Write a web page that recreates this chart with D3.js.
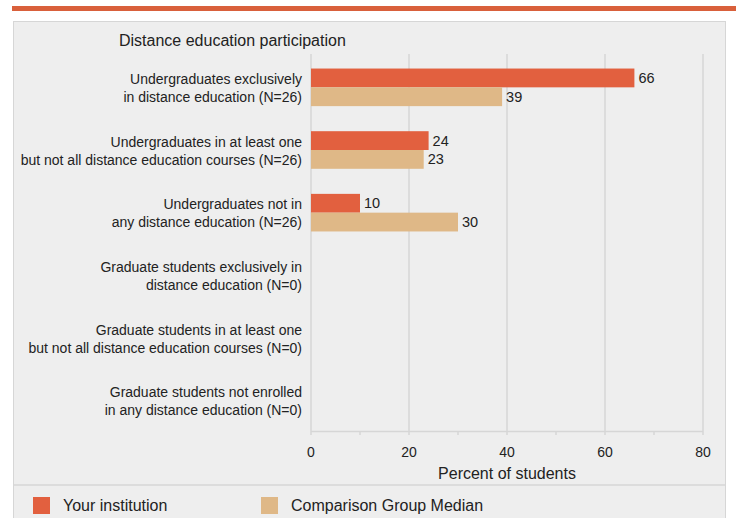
<!DOCTYPE html>
<html>
<head>
<meta charset="utf-8">
<script src="https://cdn.jsdelivr.net/npm/d3@7"></script>
<style>
  body { margin: 0; background: #fff; }
  svg { display: block; font-family: "Liberation Sans", Arial, sans-serif; }
</style>
</head>
<body>
<svg width="736" height="518"></svg>
<script>
// Data
const categories = [
  ["Undergraduates exclusively", "in distance education (N=26)"],
  ["Undergraduates in at least one", "but not all distance education courses (N=26)"],
  ["Undergraduates not in", "any distance education (N=26)"],
  ["Graduate students exclusively in", "distance education (N=0)"],
  ["Graduate students in at least one", "but not all distance education courses (N=0)"],
  ["Graduate students not enrolled", "in any distance education (N=0)"]
];
const institution = [66, 24, 10, null, null, null];
const comparison = [39, 23, 30, null, null, null];
const seriesNames = ["Your institution", "Comparison Group Median"];
const xTicks = [0, 20, 40, 60, 80];

const colors = ["#e2603f", "#dfb887"];

let svg = d3.select("svg");

// top rule + panel
svg.append("rect").attr("x", 12).attr("y", 6).attr("width", 724).attr("height", 5).attr("fill", "#d9603b");
svg.append("rect").attr("x", 13.5).attr("y", 21.5).attr("width", 712).attr("height", 510)
  .attr("fill", "#eeeeee").attr("stroke", "#d6d6d6");
svg.append("line").attr("x1", 14).attr("x2", 725).attr("y1", 485).attr("y2", 485)
  .attr("stroke", "#d6d6d6").attr("stroke-width", 1.5);

svg.append("text").attr("x", 119).attr("y", 46).attr("font-size", 16).attr("fill", "#222")
  .text("Distance education participation");

let x = d3.scaleLinear().domain([0, 80]).range([311, 703]);
let y = d3.scaleBand().domain(d3.range(categories.length)).range([56, 432])
  .paddingInner(0.4).paddingOuter(0.2);
let sub = d3.scaleBand().domain([0, 1]).range([0, y.bandwidth()]);

// grid
svg.append("g").selectAll("line").data(xTicks).enter().append("line")
  .attr("x1", d => x(d)).attr("x2", d => x(d))
  .attr("y1", 54).attr("y2", 435)
  .attr("stroke", "#d6d6d6").attr("stroke-width", 1.5);
svg.append("g").selectAll("line").data([10, 30, 50, 70]).enter().append("line")
  .attr("x1", d => x(d)).attr("x2", d => x(d))
  .attr("y1", 431).attr("y2", 435)
  .attr("stroke", "#d6d6d6").attr("stroke-width", 1.5);
svg.append("line").attr("x1", x(0)).attr("x2", x(80)).attr("y1", 431.5).attr("y2", 431.5)
  .attr("stroke", "#d6d6d6").attr("stroke-width", 1.5);

// tick labels
svg.append("g").selectAll("text").data(xTicks).enter().append("text")
  .attr("x", d => x(d)).attr("y", 457).attr("text-anchor", "middle")
  .attr("font-size", 14).attr("fill", "#222").text(d => d);
svg.append("text").attr("x", x(40)).attr("y", 479).attr("text-anchor", "middle")
  .attr("font-size", 16).attr("fill", "#222").text("Percent of students");

// category labels
let lab = svg.append("g").selectAll("text").data(categories).enter().append("text")
  .attr("text-anchor", "end").attr("font-size", 14).attr("fill", "#222");
lab.each(function (d, i) {
  let cy = y(i) + y.bandwidth() / 2;
  d.forEach((line, j) => {
    d3.select(this).append("tspan").attr("x", 302).attr("y", cy - 3.5 + j * 18).text(line);
  });
});

// bars
[institution, comparison].forEach((vals, s) => {
  let g = svg.append("g");
  let rows = vals.map((v, i) => ({ v, i })).filter(d => d.v != null);
  g.selectAll("rect").data(rows).enter().append("rect")
    .attr("x", x(0)).attr("y", d => y(d.i) + sub(s))
    .attr("width", d => x(d.v) - x(0)).attr("height", sub.bandwidth())
    .attr("fill", colors[s]);
  g.selectAll("text").data(rows).enter().append("text")
    .attr("x", d => x(d.v) + 4).attr("y", d => y(d.i) + sub(s) + sub.bandwidth() / 2 + 5)
    .attr("font-size", 14.5).attr("fill", "#222").text(d => d.v);
});

// legend
let legX = [33, 261];
seriesNames.forEach((n, s) => {
  svg.append("rect").attr("x", legX[s]).attr("y", 497).attr("width", 17).attr("height", 17).attr("fill", colors[s]);
  svg.append("text").attr("x", legX[s] + 30).attr("y", 511).attr("font-size", 16).attr("fill", "#222").text(n);
});
</script>
</body>
</html>
